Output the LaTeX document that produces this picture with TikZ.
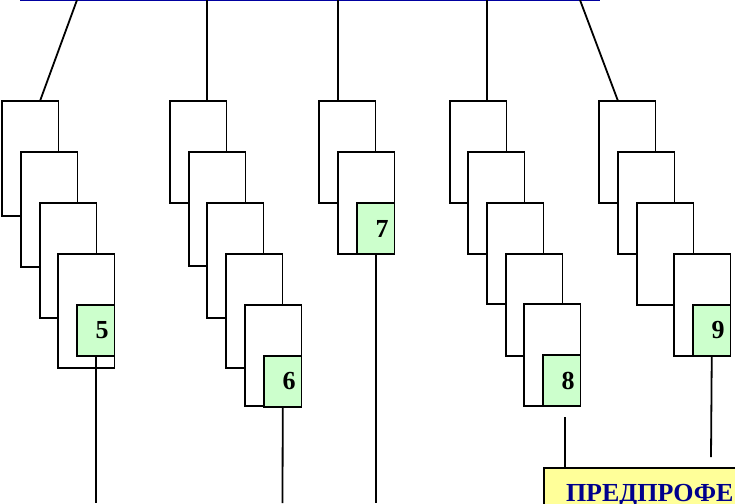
\documentclass[tikz,border=0pt]{standalone}
\usepackage{fontspec}
\setmainfont{Liberation Serif}
\definecolor{gradegreen}{RGB}{204,255,204}
\definecolor{noteyellow}{RGB}{255,255,153}
\definecolor{busblue}{RGB}{0,0,160}
\definecolor{textblue}{RGB}{0,0,140}

\tikzstyle{card} = [rectangle, anchor=north west, minimum width=56.5pt, inner sep=0pt, outer sep=0pt, draw=black, fill=white, line width=1.8pt]
\tikzstyle{grade} = [rectangle, anchor=north east, minimum height=51pt, text width=25.5pt, inner xsep=6pt, inner ysep=0pt, outer sep=0pt, align=right, draw=black, fill=gradegreen, line width=1.8pt, font=\fontsize{26}{26}\selectfont\bfseries]
\tikzstyle{note} = [rectangle, anchor=north west, text width=200pt, inner xsep=22pt, inner ysep=16pt, outer sep=0pt, align=left, draw=black, fill=noteyellow, line width=1.8pt, text=textblue, font=\fontsize{26}{30}\selectfont\bfseries]
\tikzstyle{line} = [line width=1.8pt]
\tikzstyle{bus} = [line width=2.4pt, draw=busblue]

\begin{document}
\begin{tikzpicture}[x=1pt, y=-1pt]
			\useasboundingbox (0,0) rectangle (735,503);
			\coordinate (l) at (20,0);
			\coordinate (r) at (600,0);
			\coordinate (t1) at (77,0);
			\coordinate (t2) at (207,0);
			\coordinate (t3) at (338,0);
			\coordinate (t4) at (487,0);
			\coordinate (t5) at (580,0);

			\node (11) [card, minimum height=115pt] at (2,101) {};
			\node (12) [card, minimum height=115pt] at (21,152) {};
			\node (13) [card, minimum height=115pt] at (40,203) {};
			\node (14) [card, minimum height=114pt] at (58,254) {};
			\node (g5) [grade] at ([yshift=-51pt]14.north east) {5};

			\node (21) [card, minimum height=102pt] at (170,101) {};
			\node (22) [card, minimum height=114pt] at (189,152) {};
			\node (23) [card, minimum height=115pt] at (207,203) {};
			\node (24) [card, minimum height=114pt] at (226,254) {};
			\node (25) [card, minimum height=101pt] at (245,305) {};
			\node (g6) [grade] at ([yshift=-51pt]25.north east) {6};

			\node (31) [card, minimum height=102pt] at (319,101) {};
			\node (32) [card, minimum height=102pt] at (338,152) {};
			\node (g7) [grade] at ([yshift=-51pt]32.north east) {7};

			\node (41) [card, minimum height=102pt] at (450,101) {};
			\node (42) [card, minimum height=102pt] at (468,152) {};
			\node (43) [card, minimum height=101pt] at (487,203) {};
			\node (44) [card, minimum height=102pt] at (506,254) {};
			\node (45) [card, minimum height=102pt] at (524,304) {};
			\node (g8) [grade] at ([yshift=-51pt]45.north east) {8};

			\node (51) [card, minimum height=102pt] at (599,101) {};
			\node (52) [card, minimum height=102pt] at (618,152) {};
			\node (53) [card, minimum height=102pt] at (637,203) {};
			\node (54) [card, minimum height=102pt] at (674,254) {};
			\node (g9) [grade] at ([yshift=-51pt]54.north east) {9};

			\node (10) [note] at (544,468) {ПРЕДПРОФЕ};

			\coordinate (e5) at (95.75,503);
			\coordinate (e6) at (282.5,503);
			\coordinate (e7) at (375.75,503);
			\coordinate (s8) at (565,417);
			\coordinate (e9) at (711,457);

			\draw [bus] (l) -- (r);
			\draw [line] (t1) -- ([xshift=9.75pt]11.north);
			\draw [line] (t2) -- ([xshift=8.75pt]21.north);
			\draw [line] (t3) -- ([xshift=-9.25pt]31.north);
			\draw [line] (t4) -- ([xshift=8.75pt]41.north);
			\draw [line] (t5) -- ([xshift=-9.25pt]51.north);
			\draw [line] (g5.south) -- (e5);
			\draw [line] (g6.south) -- (e6);
			\draw [line] (g7.south) -- (e7);
			\draw [line] (s8) -- (s8 |- 10.north);
			\draw [line] (g9.south) -- (e9);
		\end{tikzpicture}
\end{document}
